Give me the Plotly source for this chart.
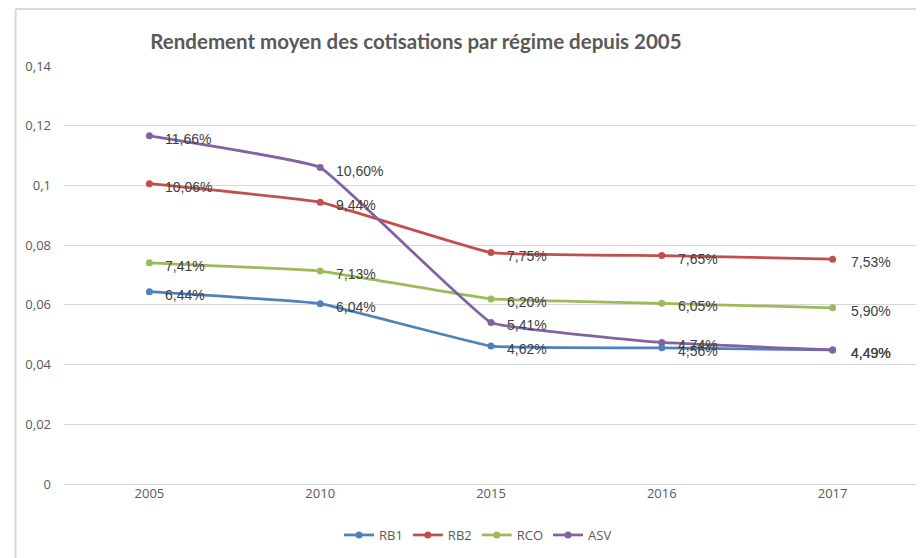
import plotly.graph_objects as go

years = ["2005", "2010", "2015", "2016", "2017"]
rb1 = [0.0644, 0.0604, 0.0462, 0.0456, 0.0449]
rb2 = [0.1006, 0.0944, 0.0775, 0.0765, 0.0753]
rco = [0.0741, 0.0713, 0.0620, 0.0605, 0.0590]
asv = [0.1166, 0.1060, 0.0541, 0.0474, 0.0449]
series_names = ["RB1", "RB2", "RCO", "ASV"]
colors = ["#4F81BD", "#C0504D", "#9BBB59", "#8064A2"]
y_tickvals = [0, 0.02, 0.04, 0.06, 0.08, 0.1, 0.12, 0.14]
y_ticktext = ["0", "0,02", "0,04", "0,06", "0,08", "0,1", "0,12", "0,14"]
title_text = "Rendement moyen des cotisations par régime depuis 2005"

# page is drawn with an 8px body margin; layout numbers below are in figure px
L, R, T, B = 56, 14, 58, 82
PW, PH = 924 - L - R, 558 - T - B

fig = go.Figure()
annotations = []
for name, vals, col in zip(series_names, [rb1, rb2, rco, asv], colors):
    fig.add_trace(go.Scatter(
        x=years, y=vals, name=name, mode="lines+markers",
        line=dict(color=col, width=2.75, shape="spline", smoothing=0.25),
        marker=dict(color=col, size=7),
    ))
    for i, v in enumerate(vals):
        annotations.append(dict(
            x=i, y=v, xref="x", yref="y",
            text=f"{v*100:.2f}%".replace(".", ","),
            showarrow=False, xanchor="left", yanchor="middle",
            xshift=14 if i < len(years) - 1 else 16, yshift=-3,
            font=dict(family="Liberation Sans", size=14, color="#404040"),
        ))

fx0 = (7.5 - L) / PW
fy_top = (PH + T - 1) / PH

fig.update_layout(
    width=924, height=558,
    margin=dict(l=L, r=R, t=T, b=B),
    paper_bgcolor="white", plot_bgcolor="white",
    title=dict(text="<b>" + title_text + "</b>", x=408 / 924, xanchor="center",
               y=1 - 34 / 558, yanchor="middle",
               font=dict(family="Lato", size=20.5, color="#595959")),
    xaxis=dict(type="category", range=[-0.5, 4.5], showgrid=False, showline=False,
               ticks="", zeroline=False,
               tickfont=dict(family="Open Sans", size=13, color="#595959")),
    yaxis=dict(range=[0, 0.14], tickvals=y_tickvals, ticktext=y_ticktext,
               showgrid=True, gridcolor="#D9D9D9", gridwidth=1.3, zeroline=True,
               zerolinecolor="#D9D9D9", zerolinewidth=1.3, showline=False, ticks="",
               ticklabelstandoff=12,
               tickfont=dict(family="Open Sans", size=13, color="#595959")),
    legend=dict(orientation="h", x=470 / 924, xanchor="center",
                xref="container", y=1 - 527 / 558, yref="container", yanchor="middle",
                font=dict(family="Open Sans", size=13, color="#595959"),
                itemwidth=30, tracegroupgap=0),
    annotations=annotations,
    shapes=[
        dict(type="line", xref="paper", yref="paper", x0=fx0, x1=fx0,
             y0=-B / PH - 0.01, y1=fy_top, line=dict(color="#D9D9D9", width=2)),
        dict(type="line", xref="paper", yref="paper", x0=fx0, x1=1 + R / PW + 0.01,
             y0=fy_top, y1=fy_top, line=dict(color="#D9D9D9", width=2)),
    ],
)

fig.write_html("out.html")
